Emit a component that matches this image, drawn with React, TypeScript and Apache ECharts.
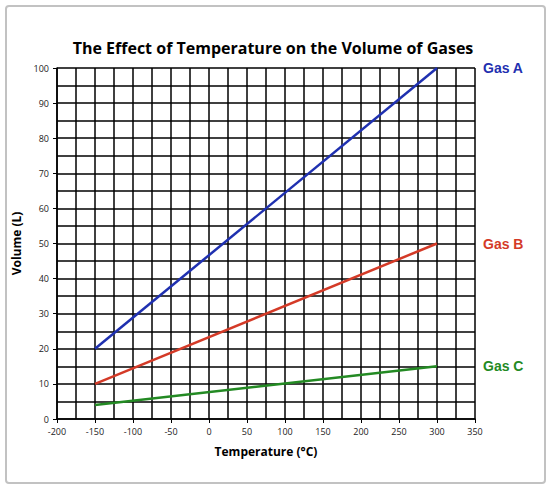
import React, { useEffect, useRef } from "react";
import * as echarts from "echarts";

const gasNames = ["Gas A", "Gas B", "Gas C"];
const temperatures = [-150, 300];
const gasA = [20, 100];
const gasB = [10, 50];
const gasC = [4, 15];
const colors = ["#1f30b0", "#d43a27", "#238a23"];

export default function App() {
  const ref = useRef<HTMLDivElement>(null);
  useEffect(() => {
    document.body.style.margin = "0";
    const chart = echarts.init(ref.current!, null, { renderer: "svg" });
    const seriesData = [gasA, gasB, gasC];
    const lastY = seriesData.map((s) => s[s.length - 1]);
    chart.setOption({
      animation: false,
      title: {
        text: "The Effect of Temperature on the Volume of Gases",
        left: 268,
        textAlign: "center",
        top: 35,
        textStyle: { fontFamily: "Open Sans", fontWeight: "bold", fontSize: 16, color: "#000" },
      },
      graphic: [
        {
          type: "rect",
          left: 5,
          top: 5,
          shape: { width: 539, height: 477, r: 3 },
          style: { fill: "transparent", stroke: "#c2c2c2", lineWidth: 2 },
          silent: true,
        },
      ],
      grid: { left: 57, right: 75, top: 68, bottom: 69 },
      xAxis: {
        type: "value",
        min: -200,
        max: 350,
        interval: 50,
        name: "Temperature (°C)",
        nameLocation: "middle",
        nameGap: 26,
        nameTextStyle: { fontFamily: "Open Sans", fontWeight: "bold", fontSize: 12, color: "#000" },
        axisLine: { show: true, onZero: false, lineStyle: { color: "#000", width: 1.5 } },
        axisTick: { show: true, length: 4, lineStyle: { color: "#000" } },
        axisLabel: { fontFamily: "Open Sans", fontSize: 9, color: "#222", margin: 8 },
        splitLine: { show: true, lineStyle: { color: "#000", width: 1.5 } },
        minorTick: { show: false, splitNumber: 2 },
        minorSplitLine: { show: true, lineStyle: { color: "#000", width: 1.5 } },
      },
      yAxis: {
        type: "value",
        min: 0,
        max: 100,
        interval: 10,
        name: "Volume (L)",
        nameLocation: "middle",
        nameGap: 35,
        nameTextStyle: { fontFamily: "Open Sans", fontWeight: "bold", fontSize: 12, color: "#000" },
        axisLine: { show: true, onZero: false, lineStyle: { color: "#000", width: 1.5 } },
        axisTick: { show: true, length: 4, lineStyle: { color: "#000" } },
        axisLabel: { fontFamily: "Open Sans", fontSize: 9, color: "#222", margin: 8 },
        splitLine: { show: true, lineStyle: { color: "#000", width: 1.5 } },
        minorTick: { show: false, splitNumber: 2 },
        minorSplitLine: { show: true, lineStyle: { color: "#000", width: 1.5 } },
      },
      series: seriesData.map((s, i) => ({
        name: gasNames[i],
        type: "line",
        data: s.map((v, j) => [temperatures[j], v]),
        symbol: "none",
        lineStyle: { color: colors[i], width: 2.5 },
        z: 3,
        markPoint: {
          symbol: "circle",
          symbolSize: 0,
          data: [
            {
              coord: [350, lastY[i]],
              label: {
                show: true,
                position: "right",
                distance: 8,
                formatter: gasNames[i],
                fontFamily: "Liberation Sans",
                fontWeight: "bold",
                fontSize: 14,
                color: colors[i],
              },
            },
          ],
        },
      })),
    });
    return () => chart.dispose();
  }, []);
  return <div ref={ref} style={{ width: 550, height: 488 }} />;
}
